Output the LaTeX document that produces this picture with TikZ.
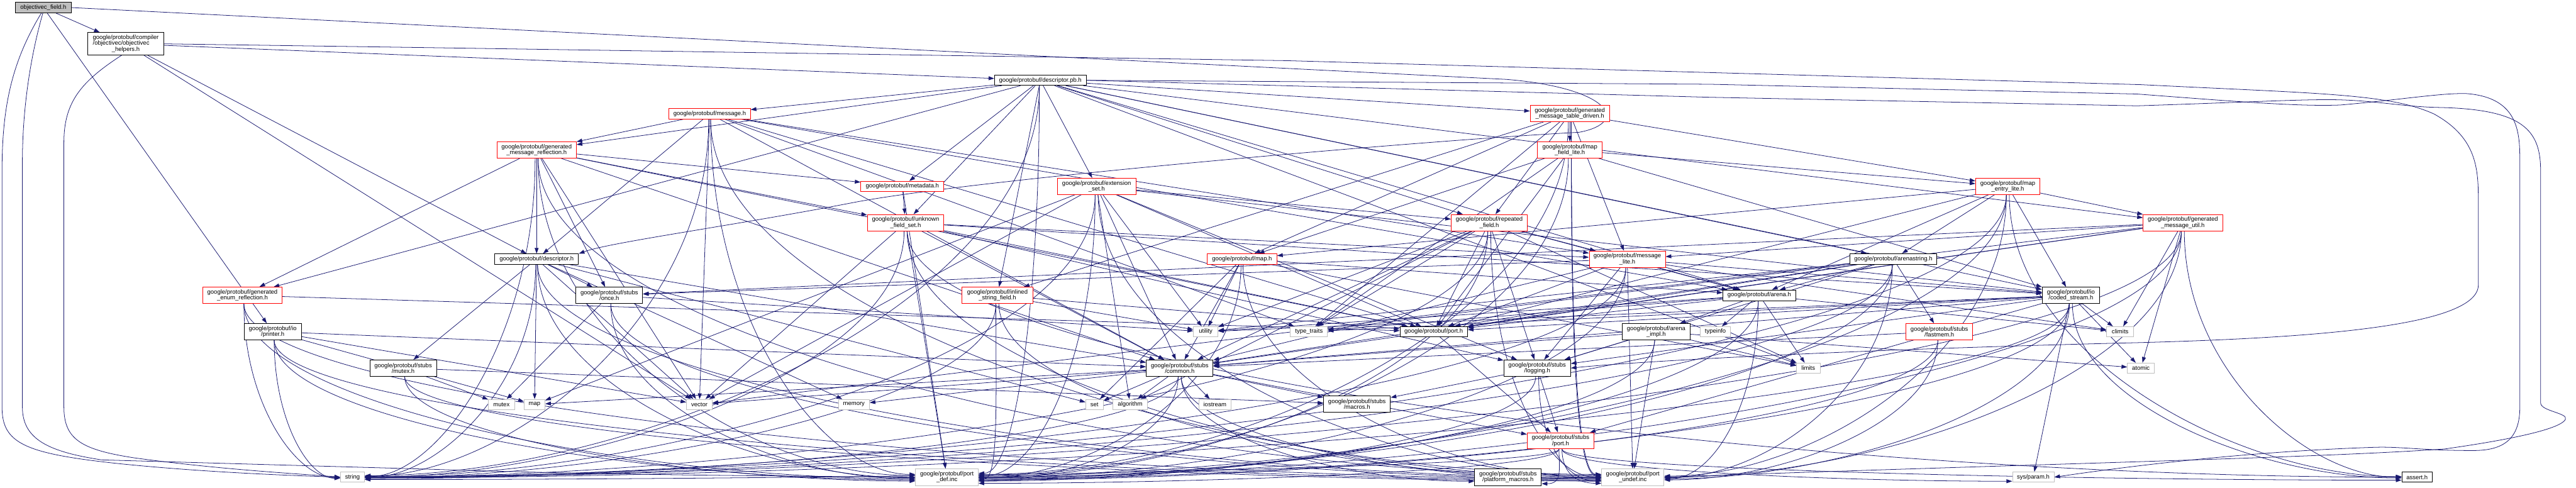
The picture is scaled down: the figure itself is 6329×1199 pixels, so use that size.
\documentclass[tikz,border=0pt]{standalone}
\usepackage{fontspec}
\setmainfont{Liberation Sans}
\usetikzlibrary{arrows.meta}
\pgfdeclarelayer{edgelayer}
\pgfsetlayers{edgelayer,main}
\definecolor{edgeblue}{HTML}{191970}
\definecolor{extgray}{HTML}{BFBFBF}
\definecolor{truncred}{HTML}{FF0000}
\newcommand\edgesfrom[2]{\foreach \tgt in {#2}{\draw[dep] (#1) -- (\tgt);}}
\newcommand\sweep[2]{%
  \path (#1); \pgfgetlastxy{\sxA}{\syA}%
  \path (#2); \pgfgetlastxy{\txA}{\tyA}%
  \pgfmathsetmacro\dxA{\txA-\sxA}%
  \pgfmathsetmacro\dyA{abs(\tyA-\syA)}%
  \pgfmathtruncatemacro\angA{12-24*min(1,abs(\syA)/1100)}%
  \pgfmathtruncatemacro\angB{180-\angA}%
  \ifdim\dxA pt>120pt
    \draw[dep] (#1.-80) .. controls +(0,0.55*\dyA) and +(-0.4*\dxA,0) .. (#2.\angB);
  \else\ifdim\dxA pt<-120pt
    \draw[dep] (#1.-100) .. controls +(0,0.55*\dyA) and +(-0.4*\dxA,0) .. (#2.\angA);
  \else
    \draw[dep] (#1) -- (#2);
  \fi\fi}
\newcommand\sweepsfrom[2]{\foreach \tgt in {#2}{\sweep{#1}{\tgt}}}
\begin{document}
\begin{tikzpicture}[x=1pt,y=-1pt,
  box/.style={draw, fill=white, line width=1.3pt, inner sep=0pt, align=center,
    font=\fontsize{14.7}{14.4}\selectfont},
  doc/.style={box, draw=black},
  trunc/.style={box, draw=truncred},
  ext/.style={box, draw=extgray},
  sz/.style 2 args={minimum width=#1pt, minimum height=#2pt},
  dep/.style={draw=edgeblue, line width=1.2pt, -{Triangle[length=14pt,width=9.5pt]}}
]
\useasboundingbox (0,0) rectangle (6329,1199);

% ---------- nodes ----------
\node[doc, fill=extgray, sz={136}{26}] (field) at (106.5,18.6) {objectivec\_field.h};
\node[doc, sz={186}{55}] (helpers) at (309,107.7) {\begin{tabular}{@{}l@{}}google/protobuf/compiler\\/objectivec/objectivec\\\multicolumn{1}{@{}c@{}}{\_helpers.h}\end{tabular}};
\node[doc, sz={225}{25}] (dpb) at (2556,197.3) {google/protobuf/descriptor.pb.h};
\node[trunc, sz={200}{26}] (message) at (1743.6,279.5) {google/protobuf/message.h};
\node[trunc, sz={195}{40}] (gmr) at (1318.4,368.7) {google/protobuf/generated\\\_message\_reflection.h};
\node[trunc, sz={195}{40}] (gmtd) at (3857,279) {google/protobuf/generated\\\_message\_table\_driven.h};
\node[trunc, sz={159}{40}] (mfl) at (3857,368.5) {google/protobuf/map\\\_field\_lite.h};
\node[trunc, sz={204}{25}] (metadata) at (2217,457.7) {google/protobuf/metadata.h};
\node[trunc, sz={193}{40}] (extset) at (2694.3,457.8) {google/protobuf/extension\\\_set.h};
\node[trunc, sz={158}{40}] (mel) at (4933,457.8) {google/protobuf/map\\\_entry\_lite.h};
\node[trunc, sz={188}{40}] (ufs) at (2225,547) {google/protobuf/unknown\\\_field\_set.h};
\node[trunc, sz={187}{40}] (rf) at (3659,547) {google/protobuf/repeated\\\_field.h};
\node[trunc, sz={195}{40}] (gmu) at (5363,547) {google/protobuf/generated\\\_message\_util.h};
\node[doc, sz={206}{25}] (desc) at (1318.4,636.4) {google/protobuf/descriptor.h};
\node[trunc, sz={171}{26}] (maph) at (3051.5,636.2) {google/protobuf/map.h};
\node[trunc, sz={187}{40}] (ml) at (3998,636.8) {google/protobuf/message\\\_lite.h};
\node[doc, sz={214}{26}] (as) at (4651.6,636.2) {google/protobuf/arenastring.h};
\node[trunc, sz={195}{40}] (ger) at (595.6,725.6) {google/protobuf/generated\\\_enum\_reflection.h};
\node[doc, sz={164}{40}] (once) at (1497,725.6) {google/protobuf/stubs\\/once.h};
\node[trunc, sz={174}{40}] (isf) at (2450.5,725.6) {google/protobuf/inlined\\\_string\_field.h};
\node[doc, sz={179}{26}] (arena) at (4322.4,725.5) {google/protobuf/arena.h};
\node[doc, sz={141}{40}] (cs) at (5088,725.6) {google/protobuf/io\\/coded\_stream.h};
\node[doc, sz={141}{40}] (printer) at (670,815) {google/protobuf/io\\/printer.h};
\node[ext, sz={60}{25}] (utility) at (2962.3,815) {utility};
\node[ext, sz={91}{25}] (tt) at (3216,815) {type\_traits};
\node[doc, sz={166}{25}] (porth) at (3522.5,815) {google/protobuf/port.h};
\node[doc, sz={166}{40}] (aimpl) at (4069,815) {google/protobuf/arena\\\_impl.h};
\node[ext, sz={75}{25}] (typeinfo) at (4214.5,815) {typeinfo};
\node[trunc, sz={164}{40}] (fastmem) at (4764.8,815) {google/protobuf/stubs\\/fastmem.h};
\node[ext, sz={66}{25}] (climits) at (5209,815) {climits};
\node[doc, sz={164}{40}] (mutexh) at (990.5,904.4) {google/protobuf/stubs\\/mutex.h};
\node[doc, sz={164}{40}] (common) at (2898.4,904.4) {google/protobuf/stubs\\/common.h};
\node[doc, sz={164}{40}] (logging) at (3776.7,904.4) {google/protobuf/stubs\\/logging.h};
\node[ext, sz={58}{25}] (limits) at (4442.7,904.4) {limits};
\node[ext, sz={66}{25}] (atomic) at (5260,904.4) {atomic};
\node[ext, sz={64}{25}] (mutex) at (1232,993.7) {mutex};
\node[ext, sz={51}{25}] (map) at (1313.3,993.7) {map};
\node[ext, sz={63}{25}] (vector) at (1718.3,993.7) {vector};
\node[ext, sz={76}{25}] (memory) at (2098,993.7) {memory};
\node[ext, sz={43}{25}] (set) at (2689,993.7) {set};
\node[ext, sz={85}{25}] (algorithm) at (2776.7,993.7) {algorithm};
\node[ext, sz={80}{25}] (iostream) at (2985,993.7) {iostream};
\node[doc, sz={164}{40}] (macros) at (3334,993.3) {google/protobuf/stubs\\/macros.h};
\node[trunc, sz={164}{40}] (sport) at (3834,1083) {google/protobuf/stubs\\/port.h};
\node[ext, sz={59}{25}] (string) at (866,1172.4) {string};
\node[ext, sz={154}{41}] (portdef) at (2326.5,1172.4) {google/protobuf/port\\\_def.inc};
\node[doc, sz={164}{41}] (pm) at (3705,1172.4) {google/protobuf/stubs\\/platform\_macros.h};
\node[ext, sz={153}{41}] (portundef) at (4011.7,1172.4) {google/protobuf/port\\\_undef.inc};
\node[ext, sz={102}{25}] (sysparam) at (4995.4,1172.4) {sys/param.h};
\node[doc, sz={75}{25}] (assert) at (5938.5,1172.4) {assert.h};

% ---------- edges ----------
\begin{pgfonlayer}{edgelayer}
\edgesfrom{field}{helpers,printer}
\edgesfrom{helpers}{dpb,desc,vector}
\edgesfrom{dpb}{message,gmr,gmtd,gmu,isf,metadata,extset,ufs,rf,ger,arena,as,cs,limits}
\sweepsfrom{dpb}{string,portdef}
\edgesfrom{message}{gmr,desc,vector,common,ml,arena,porth,tt}
\sweepsfrom{message}{string,portdef,portundef}
\edgesfrom{gmr}{desc,ger,once,ufs,metadata,common,porth,vector}
\sweepsfrom{gmr}{string,portdef,portundef}
\edgesfrom{gmtd}{mfl,ml,mel,maph,isf,rf,tt}
\sweepsfrom{gmtd}{portdef,portundef}
\edgesfrom{mfl}{mel,maph,cs,porth,tt}
\sweepsfrom{mfl}{portdef,portundef}
\edgesfrom{mel}{gmu,maph,arena,as,cs,porth}
\sweepsfrom{mel}{string,assert,portdef,portundef}
\edgesfrom{metadata}{ufs}
\sweepsfrom{metadata}{portdef}
\edgesfrom{extset}{algorithm,map,utility,vector,common,logging,cs,porth,rf}
\sweepsfrom{extset}{string,portdef,portundef}
\edgesfrom{ufs}{vector,common,logging,cs,ml,porth}
\sweepsfrom{ufs}{assert,string,portdef,portundef}
\edgesfrom{rf}{utility,algorithm,limits,tt,logging,common,arena,ml,porth}
\sweepsfrom{rf}{string,portdef,portundef}
\edgesfrom{gmu}{atomic,climits,vector,common,ml,once,porth}
\sweepsfrom{gmu}{assert,string,portdef,portundef}
\edgesfrom{desc}{memory,set,vector,map,common,mutexh,once}
\sweepsfrom{desc}{string,portdef,portundef}
\edgesfrom{maph}{limits,set,utility,common,arena}
\sweepsfrom{maph}{portdef,portundef}
\edgesfrom{ml}{climits,common,logging,cs,arena,once,porth}
\sweepsfrom{ml}{string,portdef,portundef}
\edgesfrom{as}{tt,utility,arena,common,fastmem,logging,porth}
\sweepsfrom{as}{string,portdef,portundef}
\edgesfrom{ger}{porth}
\sweepsfrom{ger}{string,portdef,portundef}
\edgesfrom{once}{mutex,utility}
\sweepsfrom{once}{portdef,portundef}
\edgesfrom{isf}{utility,porth}
\sweepsfrom{isf}{string,portdef,portundef}
\edgesfrom{arena}{limits,tt,utility,typeinfo,aimpl,porth,climits}
\sweepsfrom{arena}{portdef,portundef}
\edgesfrom{cs}{atomic,climits,tt,utility,common,logging,porth,sport}
\sweepsfrom{cs}{assert,string,sysparam,portdef,portundef}
\edgesfrom{printer}{map,vector,common}
\sweepsfrom{printer}{string,portdef,portundef}
\edgesfrom{aimpl}{atomic,limits,common,logging}
\sweepsfrom{aimpl}{portdef,portundef}
\edgesfrom{fastmem}{common}
\sweepsfrom{fastmem}{portdef,portundef}
\edgesfrom{mutexh}{mutex,macros}
\sweepsfrom{mutexh}{portdef,portundef}
\edgesfrom{common}{algorithm,iostream,map,memory,set,vector,macros,sport}
\sweepsfrom{common}{pm,string,portdef,portundef}
\edgesfrom{logging}{macros,sport}
\sweepsfrom{logging}{portdef,portundef}
\edgesfrom{porth}{sport}
\sweepsfrom{sport}{assert,string,sysparam,pm,portdef,portundef}

% long routed connectors
\draw[dep] (field.east) -- (3700,195) .. controls (3950,215) and (4010,300) .. (3880,325)
   .. controls (3500,345) and (2400,440) .. (2100,497)
   .. controls (1800,555) and (1500,595) .. (desc.north east);
\draw[dep] (field.250) .. controls (30,150) and (5,260) .. (5,420) -- (5,1000)
   .. controls (5,1090) and (60,1115) .. (300,1140)
   .. controls (500,1160) and (700,1168) .. (string.west);
\draw[dep] (field.265) .. controls (80,120) and (55,250) .. (55,400) -- (55,1000)
   .. controls (55,1080) and (120,1110) .. (250,1130) -- (1060,1153)
   .. controls (1500,1168) and (2000,1170) .. (portdef.west);
\draw[dep] (helpers.250) .. controls (200,200) and (157,250) .. (157,350) -- (157,1000)
   .. controls (157,1080) and (200,1105) .. (330,1125)
   .. controls (550,1155) and (750,1165) .. (string.west);
\draw[dep] (helpers.east) -- (1050,117) -- (3160,149) -- (5260,208)
   .. controls (5700,230) and (5870,230) .. (5980,280)
   .. controls (6089,340) and (6089,420) .. (6089,500) -- (6089,700)
   .. controls (6089,800) and (5700,830) .. (5250,842)
   .. controls (4500,860) and (4000,890) .. (logging.east);
\draw[dep] (dpb.east) -- (4200,207) -- (5250,231)
   .. controls (5500,250) and (5650,262) .. (5750,258)
   .. controls (5900,245) and (6000,228) .. (6060,230)
   .. controls (6191,240) and (6191,330) .. (6191,400) -- (6191,1000)
   .. controls (6191,1080) and (6150,1107) .. (6076,1107)
   .. controls (5950,1107) and (5900,1097) .. (5835,1099)
   .. controls (5500,1110) and (5200,1150) .. (sysparam.east);
\draw[dep] (dpb.east) -- (4200,239) -- (5250,260)
   .. controls (5500,252) and (5650,244) .. (5732,245)
   .. controls (5830,246) and (5900,262) .. (5990,264)
   .. controls (6200,268) and (6242,320) .. (6242,420) -- (6242,990)
   .. controls (6242,1010) and (6310,1015) .. (6303,1030)
   .. controls (6290,1060) and (6100,1090) .. (6007,1103)
   .. controls (5700,1125) and (5000,1140) .. (portundef.east);
\end{pgfonlayer}
\end{tikzpicture}
\end{document}
